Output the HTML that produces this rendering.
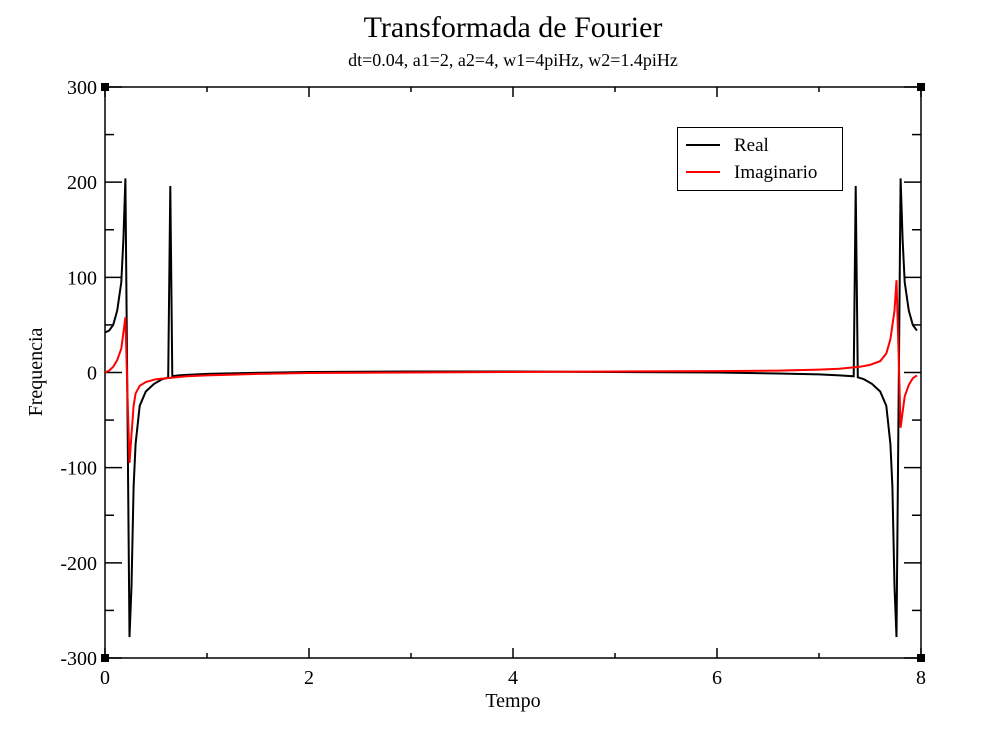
<!DOCTYPE html>
<html><head><meta charset="utf-8"><style>
body{margin:0;background:#fff}
svg{display:block;font-family:"Liberation Serif",serif}
</style></head><body>
<svg id="chart" width="997" height="739">
<text x="513" y="37" font-size="30" text-anchor="middle">Transformada de Fourier</text>
<text x="513" y="66" font-size="18" text-anchor="middle">dt=0.04, a1=2, a2=4, w1=4piHz, w2=1.4piHz</text>
<text x="513" y="707" font-size="20" text-anchor="middle">Tempo</text>
<text x="42" y="372" font-size="20" text-anchor="middle" transform="rotate(-90 42 372)">Frequencia</text>
<g id="axes"></g>
<g id="series"></g>
<g>
<rect x="677.5" y="127.5" width="165" height="63" fill="#fff" stroke="#000" stroke-width="1"/>
<line x1="686" y1="145" x2="720" y2="145" stroke="#000" stroke-width="2"/>
<text x="734" y="151" font-size="19">Real</text>
<line x1="686" y1="172" x2="720" y2="172" stroke="#f00" stroke-width="2"/>
<text x="734" y="178" font-size="19">Imaginario</text>
</g>
</svg>
<script>
const realT=[0,0.04,0.08,0.12,0.16,0.18,0.2,0.24,0.26,0.28,0.3,0.34,0.4,0.48,0.56,0.6,0.62,0.64,0.66,0.72,0.8,1.0,1.4,2,3,4,5,6,6.6,7,7.2,7.34,7.36,7.38,7.44,7.52,7.6,7.66,7.7,7.72,7.74,7.76,7.8,7.82,7.84,7.88,7.92,7.96];
const realV=[42,44,50,65,95,140,204,-278,-225,-120,-75,-35,-20,-12,-7,-6,-5,196,-4,-3,-2.5,-1.5,-0.5,0.5,1,1,0.5,0,-1,-2,-3,-4,196,-5,-7,-12,-20,-35,-75,-120,-225,-278,204,140,95,65,50,44];
const imagT=[0,0.04,0.08,0.12,0.16,0.2,0.22,0.24,0.26,0.28,0.3,0.34,0.4,0.5,0.6,0.8,1.0,1.5,2,3,4,5,6,6.6,7,7.2,7.4,7.5,7.6,7.66,7.7,7.74,7.76,7.78,7.8,7.84,7.88,7.92,7.96];
const imagV=[0,2,6,13,25,58,-20,-95,-65,-35,-22,-14,-10,-7,-6,-4,-3,-1.5,-0.5,0,0.5,1,1.5,2,3,4,6,8,12,20,35,65,97,20,-58,-25,-13,-6,-3];
const xTicks=[0,2,4,6,8];
const yTicks=[-300,-200,-100,0,100,200,300];
const X0=105,X1=921,Y0=658,Y1=87;
const sx=t=>X0+(t-0)/(8-0)*(X1-X0);
const sy=v=>Y0-(v+300)/600*(Y0-Y1);
const NS="http://www.w3.org/2000/svg";
const ax=document.getElementById('axes');
function mk(tag,attrs,parent){const e=document.createElementNS(NS,tag);for(const k in attrs)e.setAttribute(k,attrs[k]);parent.appendChild(e);return e;}
const frame=mk('rect',{x:X0,y:Y1,width:X1-X0,height:Y0-Y1,fill:'none',stroke:'#000','stroke-width':1.5},ax);


for(let t=0;t<=8;t+=1){const x=sx(t),L=(t%2===0)?10:5;
 mk('line',{x1:x,y1:Y0,x2:x,y2:Y0-L,stroke:'#000','stroke-width':1.5},ax);
 mk('line',{x1:x,y1:Y1,x2:x,y2:Y1+L,stroke:'#000','stroke-width':1.5},ax);}
for(let v=-300;v<=300;v+=50){const y=sy(v),L=(v%100===0)?17:9;
 mk('line',{x1:X0,y1:y,x2:X0+L,y2:y,stroke:'#000','stroke-width':1.5},ax);
 mk('line',{x1:X1,y1:y,x2:X1-L,y2:y,stroke:'#000','stroke-width':1.5},ax);}
xTicks.forEach(t=>{const e=mk('text',{x:sx(t),y:Y0+26,'font-size':20,'text-anchor':'middle'},ax);e.textContent=t;
 
 });
yTicks.forEach(v=>{const e=mk('text',{x:X0-8,y:sy(v)+7,'font-size':20,'text-anchor':'end'},ax);e.textContent=v;
 
 });
[[X0,Y1],[X1,Y1],[X0,Y0],[X1,Y0]].forEach(p=>{const c=mk('rect',{x:p[0]-4,y:p[1]-4,width:8,height:8,fill:'#000'},ax);
 
 });
const sg=document.getElementById('series');
function line(T,V,color){return T.map((t,i)=>(i?'L':'M')+sx(t).toFixed(1)+','+sy(V[i]).toFixed(1)).join('');}
const pr=mk('path',{d:line(realT,realV),fill:'none',stroke:'#000','stroke-width':2},sg);


const pi=mk('path',{d:line(imagT,imagV),fill:'none',stroke:'#f00','stroke-width':2},sg);


</script>
</body></html>
